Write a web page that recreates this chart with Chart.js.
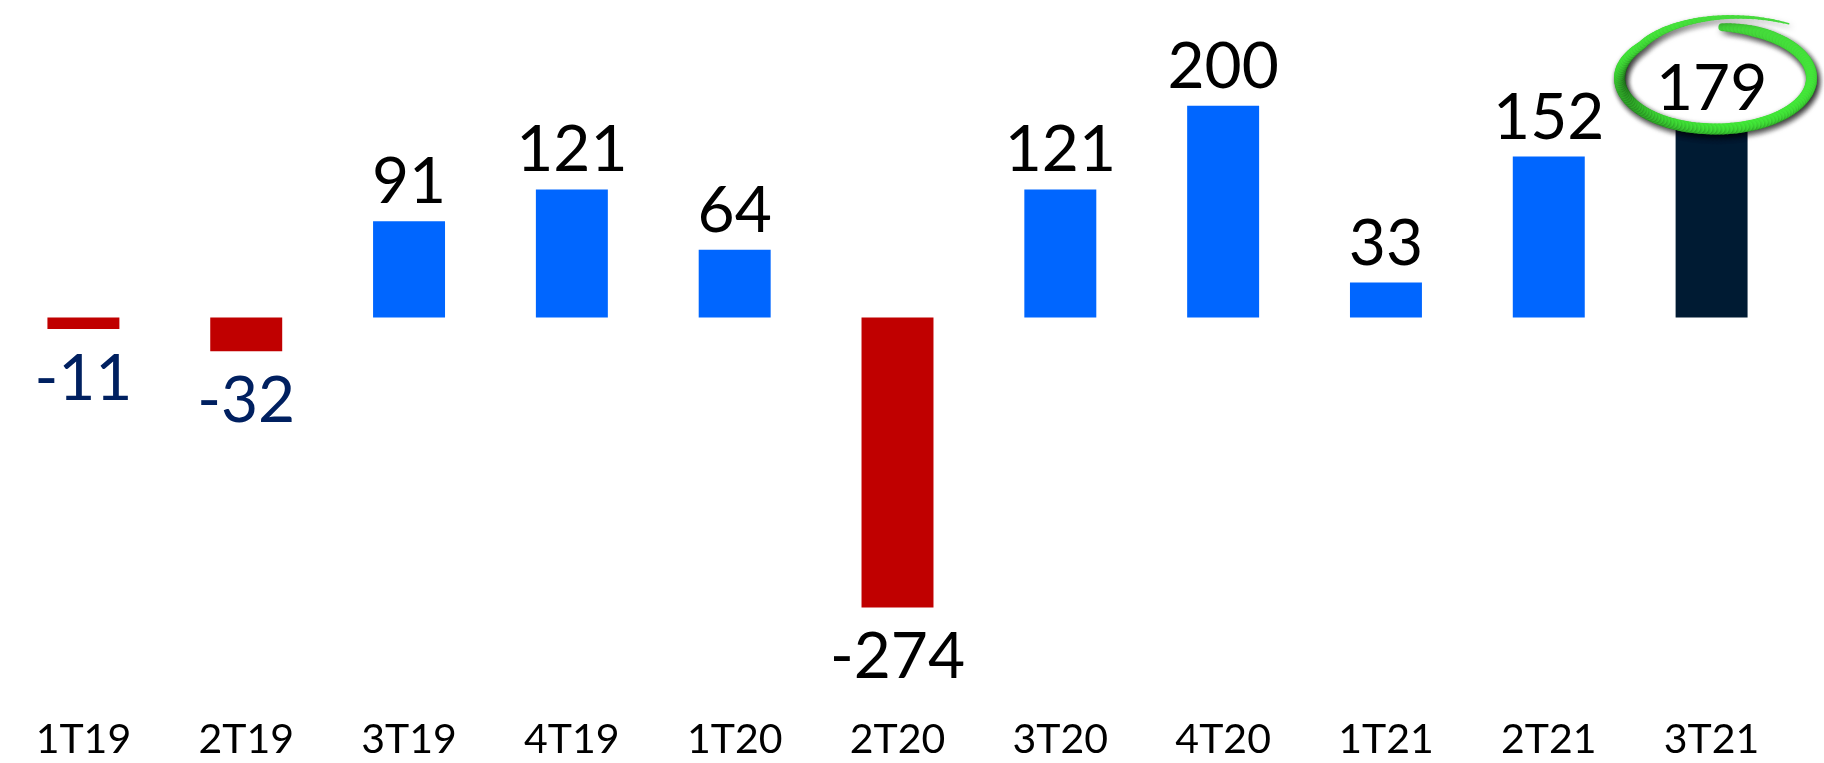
<!DOCTYPE html>
<html>
<head>
<meta charset="utf-8">
<script src="https://cdn.jsdelivr.net/npm/chart.js@4/dist/chart.umd.min.js"></script>
<style>
  html, body { margin: 0; padding: 0; background: #ffffff; }
  #wrap { width: 1824px; height: 763px; position: relative; }
</style>
</head>
<body>
<div id="wrap"><canvas id="resultChart"></canvas></div>
<script>
// Data
const quarters = ["1T19", "2T19", "3T19", "4T19", "1T20", "2T20", "3T20", "4T20", "1T21", "2T21", "3T21"];
const results = [-11, -32, 91, 121, 64, -274, 121, 200, 33, 152, 179];

// Styling
const BLUE = "#0066FF";
const RED = "#C00000";
const NAVY_BAR = "#001B33";
const NAVY_TEXT = "#002060";
const navyLabelIndexes = [0, 1];
const highlightIndex = quarters.length - 1;
const FONT = "Lato, 'DejaVu Sans', sans-serif";

const barColors = results.map((v, i) =>
  i === highlightIndex ? NAVY_BAR : (v < 0 ? RED : BLUE)
);

/**
 * Draws the value above/below each bar
 */
const valueLabelsPlugin = {
  id: "valueLabels",
  afterDatasetsDraw(chart) {
    const { ctx } = chart;
    const meta = chart.getDatasetMeta(0);
    ctx.save();
    ctx.font = `64px ${FONT}`;
    ctx.textAlign = "center";
    meta.data.forEach((bar, i) => {
      const v = results[i];
      ctx.fillStyle = navyLabelIndexes.includes(i) ? NAVY_TEXT : "#000000";
      if (v >= 0) {
        ctx.textBaseline = "alphabetic";
        ctx.fillText(String(v), bar.x, bar.y - 18);
      } else {
        ctx.textBaseline = "top";
        ctx.fillText(String(v), bar.x, bar.y + 18);
      }
    });
    ctx.restore();
  },
};

/**
 * Draws the green hand-drawn style ring around the highlighted value
 */
const highlightRingPlugin = {
  id: "highlightRing",
  afterDraw(chart) {
    const { ctx } = chart;
    const bar = chart.getDatasetMeta(0).data[highlightIndex];
    if (!bar) return;
    const cx = bar.x + 4;
    const cy = bar.y - 50;
    const rx = 96;
    const ry = 51;
    const t0 = -1.5;
    const total = Math.PI * 2 + 0.55;
    const steps = 160;

    ctx.save();
    ctx.lineCap = "round";
    ctx.shadowColor = "rgba(0,0,0,0.35)";
    ctx.shadowBlur = 6;
    ctx.shadowOffsetX = 2;
    ctx.shadowOffsetY = 3;
    for (let s = 0; s < steps; s++) {
      const f1 = s / steps;
      const f2 = (s + 1) / steps;
      const pt = f => {
        const t = t0 + f * total;
        const grow = f > 0.78 ? 1 + (f - 0.78) * 1.4 : 1;
        return [cx + rx * grow * Math.cos(t), cy + ry * grow * Math.sin(t)];
      };
      const [x1, y1] = pt(f1);
      const [x2, y2] = pt(f2);
      let w = 11;
      if (f1 < 0.05) w = 8 + f1 * 60;
      if (f1 > 0.7) w = Math.max(1.5, 11 - (f1 - 0.7) * 32);
      const g = Math.round(200 + 30 * Math.sin(f1 * Math.PI));
      ctx.strokeStyle = `rgb(70, ${g + 15}, 60)`;
      ctx.lineWidth = w;
      ctx.beginPath();
      ctx.moveTo(x1, y1);
      ctx.lineTo(x2, y2);
      ctx.stroke();
    }
    ctx.restore();
  },
};

function buildChartConfig() {
  return {
    type: "bar",
    data: {
      labels: quarters,
      datasets: [
        {
          data: results,
          backgroundColor: barColors,
          borderWidth: 0,
          categoryPercentage: 1,
          barPercentage: 0.442,
        },
      ],
    },
    options: {
      responsive: true,
      maintainAspectRatio: false,
      animation: false,
      layout: { padding: { left: 2, right: 31, top: 0, bottom: -11 } },
      plugins: {
        legend: { display: false },
        tooltip: { enabled: false },
      },
      scales: {
        x: {
          grid: { display: false, drawTicks: false },
          border: { display: false },
          ticks: {
            color: "#000000",
            font: { family: FONT, size: 41 },
            padding: 10,
            maxRotation: 0,
            autoSkip: false,
          },
        },
        y: {
          display: false,
          min: -366,
          max: 300,
        },
      },
    },
    plugins: [valueLabelsPlugin, highlightRingPlugin],
  };
}

const canvas = document.getElementById("resultChart");
new Chart(canvas.getContext("2d"), buildChartConfig());
</script>
</body>
</html>
